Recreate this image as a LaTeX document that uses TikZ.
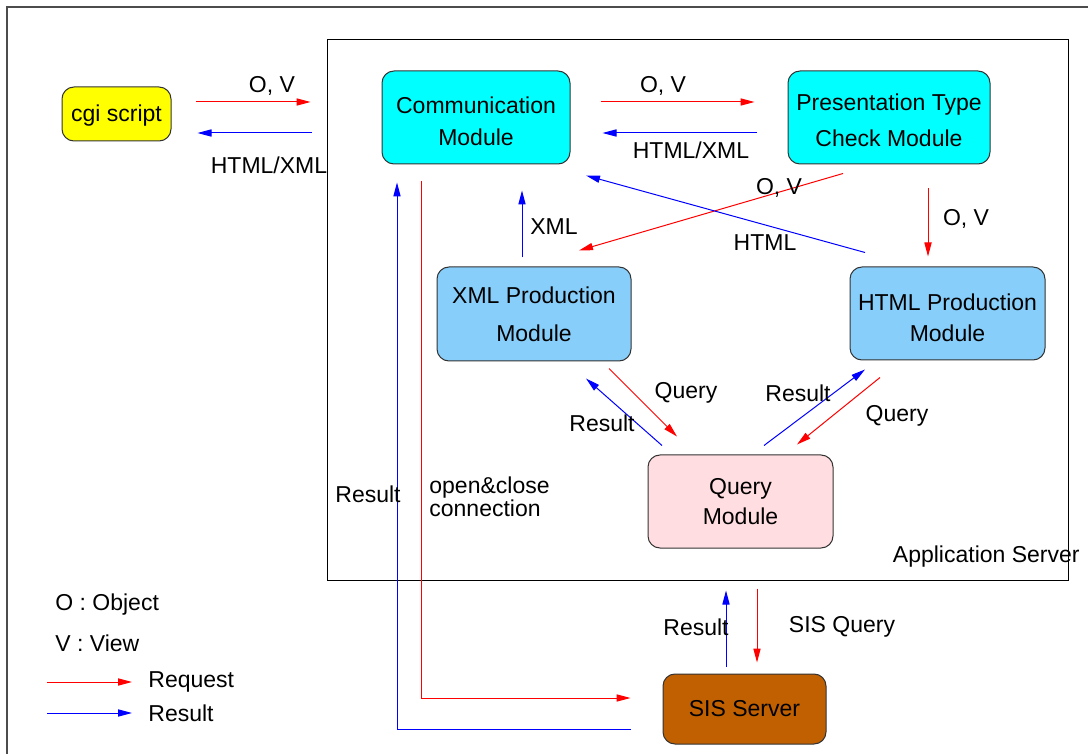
\documentclass[tikz,border=0pt]{standalone}
\usepackage{fontspec}
\setmainfont{Liberation Sans}
\usetikzlibrary{arrows.meta,calc}
\definecolor{cgiyellow}{HTML}{FFFF00}
\definecolor{modcyan}{HTML}{00FFFF}
\definecolor{prodblue}{HTML}{87CEFA}
\definecolor{querypink}{HTML}{FFDDE0}
\definecolor{sisbrown}{HTML}{C06000}
\definecolor{boxline}{HTML}{333333}
\definecolor{reqred}{HTML}{FF0000}
\definecolor{resblue}{HTML}{0000FF}
\tikzset{
  modbox/.style={draw=boxline,line width=0.5pt,rounded corners=6pt,align=center,inner sep=2pt,font=\fontsize{11.5}{16}\selectfont},
  req/.style={-{Triangle[length=7pt,width=3.6pt]},color=reqred,line width=0.5pt},
  res/.style={-{Triangle[length=7pt,width=3.6pt]},color=resblue,line width=0.5pt},
  lbl/.style={font=\fontsize{11.5}{10}\selectfont,inner sep=0pt,align=left},
}

\begin{document}
\begin{tikzpicture}[x=0.5pt,y=-0.5pt]
  \useasboundingbox (0,0) rectangle (1088,754);
  \draw[gray!60!black,line width=0.7pt] (7,7) rectangle (1100,770);
  \node[draw,line width=0.5pt,minimum width=370.5pt,minimum height=270pt] (appsrv) at (697.5,310) {};
  \node[lbl,anchor=east] (appname) at (1080,557) {Application Server};
  % modules
  \node[modbox,fill=cgiyellow,minimum width=54.5pt,minimum height=27pt] (cgi) at (116.5,114) {\rule{0pt}{10pt}cgi script};
  \node[modbox,fill=modcyan,minimum width=94pt,minimum height=46.5pt] (comm) at (476,117.5) {\rule{0pt}{12.5pt}Communication\\Module};
  \node[modbox,fill=modcyan,minimum width=101pt,minimum height=46.5pt] (pres) at (889,117.5) {\rule{0pt}{11.5pt}Presentation Type\\[2pt]Check Module};
  \node[modbox,fill=prodblue,minimum width=97pt,minimum height=47pt] (xmlp) at (534,314) {XML Production\\[3pt]Module};
  \node[modbox,fill=prodblue,minimum width=97.5pt,minimum height=46.5pt] (htmlp) at (947.5,313.5) {\rule{0pt}{12.5pt}HTML Production\\[-0.5pt]Module};
  \node[modbox,fill=querypink,minimum width=92.5pt,minimum height=46.5pt] (query) at (740.5,501.5) {Query\\[-1pt]Module};
  \node[modbox,fill=sisbrown,minimum width=81.5pt,minimum height=35pt] (sis) at (744.5,709) {SIS Server};
  % cgi <-> communication
  \draw[req] ([shift={(24,-12)}]cgi.east) -- ([shift={(-71,-15.5)}]comm.west);
  \draw[res] ([shift={(-70,15.5)}]comm.west) -- ([shift={(26,19)}]cgi.east);
  \node[lbl] (ov1) at (272,86) {O, V};
  \node[lbl] (hx1) at (269,165) {HTML/XML};
  % communication <-> presentation
  \draw[req] ([shift={(30,-15.5)}]comm.east) -- ([shift={(-33,-15.5)}]pres.west);
  \draw[res] ([shift={(-31,15.5)}]pres.west) -- ([shift={(32,15.5)}]comm.east);
  \node[lbl] (ov2) at (663,86) {O, V};
  \node[lbl] (hx2) at (691,150) {HTML/XML};
  % crossing arrows
  \draw[req] ([shift={(-46,9)}]pres.south) -- ([shift={(45,-16)}]xmlp.north);
  \draw[res] ([shift={(-82.5,-14)}]htmlp.north) -- ([shift={(110,11)}]comm.south);
  \node[lbl] (ov3) at (779,188) {O, V};
  \node[lbl] (ht1) at (765,243) {HTML};
  \draw[req] ([shift={(39,24)}]pres.south) -- ([shift={(-19.5,-10)}]htmlp.north);
  \node[lbl] (ov4) at (966,219) {O, V};
  \draw[res] ([shift={(-12,-9)}]xmlp.north) -- ([shift={(46,26)}]comm.south);
  \node[lbl] (xm1) at (554,227) {XML};
  % production <-> query
  \draw[req] ([shift={(75,7)}]xmlp.south) -- ([shift={(-63.5,-18)}]query.north);
  \draw[res] ([shift={(-78.5,-9)}]query.north) -- ([shift={(52,17)}]xmlp.south);
  \node[lbl] (qy1) at (686,393) {Query};
  \node[lbl] (rs1) at (602,423) {Result};
  \draw[res] ([shift={(23.5,-9)}]query.north) -- ([shift={(-82.5,9)}]htmlp.south);
  \draw[req] ([shift={(-67.5,17)}]htmlp.south) -- ([shift={(56.5,-10)}]query.north);
  \node[lbl] (rs2) at (798,393) {Result};
  \node[lbl] (qy2) at (897,416) {Query};
  % connection to the SIS server
  \draw[req] ([shift={(-55,17)}]comm.south) |- ([shift={(-32,-11)}]sis.west);
  \draw[res] ([shift={(-32,20)}]sis.west) -| ([shift={(-79,18)}]comm.south);
  \node[lbl] (rs3) at (368,494) {Result};
  \node[lbl,anchor=west] (oc1) at (429,497) {open\&close\\connection};
  \draw[res] ([shift={(-18.5,-7)}]sis.north) -- ([shift={(-14.5,42)}]query.south);
  \draw[req] ([shift={(16.5,40)}]query.south) -- ([shift={(12.5,-11)}]sis.north);
  \node[lbl] (rs4) at (696,627) {Result};
  \node[lbl] (sq1) at (842,627) {SIS Query};
  % legend
  \node[lbl,anchor=west] (lobj) at (55,605) {O : Object};
  \node[lbl,anchor=west] (lview) at (55,643) {V : View};
  \node[lbl,anchor=west] (lreq) at (148,682) {Request};
  \node[lbl,anchor=west] (lres) at (148,713) {Result};
  \draw[req] ([shift={(-101,0)}]lreq.west) -- ([shift={(-16,0)}]lreq.west);
  \draw[res] ([shift={(-101,0)}]lres.west) -- ([shift={(-16,0)}]lres.west);
\end{tikzpicture}
\end{document}
